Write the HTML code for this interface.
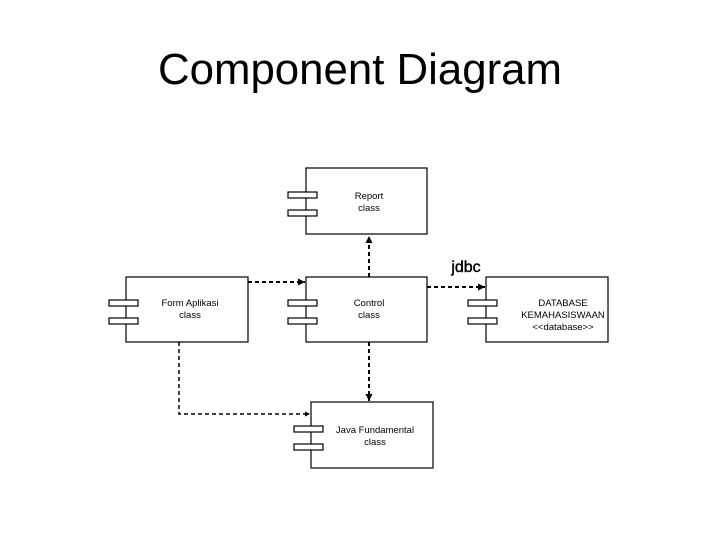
<!DOCTYPE html>
<html><head><style>html,body{margin:0;padding:0;background:#fff}</style></head><body>
<svg width="720" height="540" xmlns="http://www.w3.org/2000/svg" font-family="Liberation Sans, Arial, sans-serif">
<defs>
<marker id="a" viewBox="0 0 10 10" refX="10" refY="5" markerWidth="3.5" markerHeight="3.5" orient="auto"><path d="M0,0L10,5L0,10z" fill="#000"/></marker>
</defs>
<text x="360" y="84" font-size="44" text-anchor="middle" textLength="404" lengthAdjust="spacingAndGlyphs">Component Diagram</text>
<g fill="#fff" stroke="#000" stroke-width="1.2">
<rect x="306" y="168" width="121" height="66"/>
<rect x="288" y="192" width="29" height="6"/><rect x="288" y="210" width="29" height="6"/>
<rect x="126" y="277" width="122" height="65"/>
<rect x="109" y="300" width="29" height="6"/><rect x="109" y="318" width="29" height="6"/>
<rect x="306" y="277" width="121" height="65"/>
<rect x="288" y="300" width="29" height="6"/><rect x="288" y="318" width="29" height="6"/>
<rect x="486" y="277" width="122" height="65"/>
<rect x="468" y="300" width="29" height="6"/><rect x="468" y="318" width="29" height="6"/>
<rect x="311" y="402" width="122" height="66"/>
<rect x="294" y="426" width="29" height="6"/><rect x="294" y="444" width="29" height="6"/>
</g>
<g fill="none" stroke="#000" stroke-width="2" stroke-dasharray="4,3">
<path d="M369 277V236" marker-end="url(#a)"/>
<path d="M248 282H305" marker-end="url(#a)"/>
<path d="M427 287H485" marker-end="url(#a)"/>
<path d="M369 342V401" marker-end="url(#a)"/>
<path d="M179 342V414H310" stroke-width="1.5" marker-end="url(#a)"/>
</g>
<g font-size="9.5" text-anchor="middle">
<text x="369" y="199">Report</text><text x="369" y="211">class</text>
<text x="190" y="306">Form Aplikasi</text><text x="190" y="318">class</text>
<text x="369" y="306">Control</text><text x="369" y="318">class</text>
<text x="563" y="306">DATABASE</text><text x="563" y="318">KEMAHASISWAAN</text><text x="563" y="330">&lt;&lt;database&gt;&gt;</text>
<text x="375" y="433">Java Fundamental</text><text x="375" y="445">class</text>
</g>
<text x="466" y="272" font-size="16" text-anchor="middle" stroke="#000" stroke-width="0.4">jdbc</text>
</svg>
</body></html>
